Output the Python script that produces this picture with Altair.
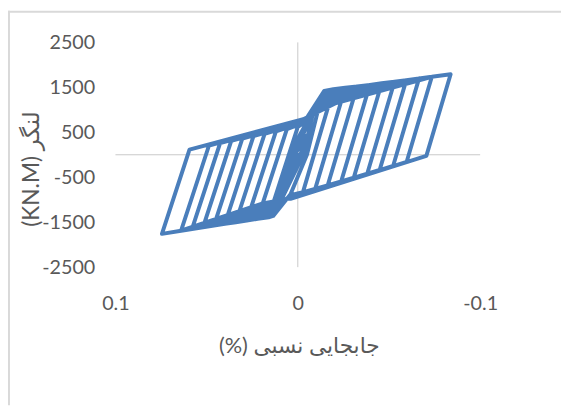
import altair as alt
import pandas as pd

# ---------------- data ----------------
# small initial (elastic) cycles: drift (%) and moment (kN.m)
elastic_x = [0.0, 0.004, 0.0015, -0.004, -0.0015, 0.008, 0.003, -0.008, -0.003, 0.012, 0.005, -0.013, -0.005]
elastic_y = [0, -450, 0, 430, 0, -880, 0, 860, 0, -1250, 0, 1300, 0]

# main cycles – positive drift (drawn on the left, axis reversed)
push_peak_x = [0.016, 0.022, 0.028, 0.034, 0.040, 0.046, 0.052, 0.058, 0.064, 0.0745]
push_peak_y = [-1390, -1425, -1465, -1500, -1535, -1575, -1615, -1650, -1690, -1760]
push_unload_x = [0.0, 0.006, 0.012, 0.0182, 0.0243, 0.0304, 0.0365, 0.0426, 0.0487, 0.0594]
push_unload_y = [620, 569, 518, 466, 414, 362, 310, 258, 206, 115]

# main cycles – negative drift (drawn on the right)
pull_peak_x = [-0.0195, -0.026, -0.0325, -0.0395, -0.046, -0.053, -0.0595, -0.0665, -0.0735, -0.0838]
pull_peak_y = [1460, 1490, 1520, 1555, 1590, 1625, 1660, 1700, 1735, 1790]
pull_unload_x = [-0.0027, -0.0095, -0.0164, -0.0238, -0.0307, -0.0381, -0.0449, -0.0523, -0.0597, -0.0705]
pull_unload_y = [-847, -764, -680, -591, -508, -418, -335, -245, -156, -24]

# pinching region points of each cycle
pinch_top_x = -0.003
pinch_top_y = [700, 710, 720, 730, 740, 750, 760, 770, 780, 790]
knee_top_x = [-0.0145, -0.0152, -0.0159, -0.0166, -0.0173, -0.018, -0.0187, -0.0194, -0.0201, -0.021]
knee_top_y = [1420, 1390, 1360, 1330, 1300, 1270, 1240, 1210, 1180, 1150]
pinch_bot_x = 0.004
pinch_bot_y = [-880, -890, -900, -910, -920, -930, -940, -950, -960, -970]
knee_bot_x = [0.0135, 0.0142, 0.0149, 0.0156, 0.0163, 0.017, 0.0177, 0.0184, 0.0191, 0.02]
knee_bot_y = [-1360, -1330, -1300, -1270, -1240, -1210, -1180, -1150, -1120, -1090]
end_x = [0.004]
end_y = [-980]

x_ticks = [-0.1, 0, 0.1]
y_ticks = [-2500, -1500, -500, 500, 1500, 2500]

x_title = "(%) جابجایی نسبی"
y_title = "(KN.M) لنگر"

# ---------------- build the ordered path ----------------
xs, ys = list(elastic_x), list(elastic_y)
for k in range(len(push_peak_x)):
    xs += [pinch_bot_x, knee_bot_x[k]]
    ys += [pinch_bot_y[k], knee_bot_y[k]]
    if k > 0:
        xs.append(push_peak_x[k - 1]); ys.append(push_peak_y[k - 1])
    xs += [push_peak_x[k], push_unload_x[k], pinch_top_x, knee_top_x[k]]
    ys += [push_peak_y[k], push_unload_y[k], pinch_top_y[k], knee_top_y[k]]
    if k > 0:
        xs.append(pull_peak_x[k - 1]); ys.append(pull_peak_y[k - 1])
    xs += [pull_peak_x[k], pull_unload_x[k]]
    ys += [pull_peak_y[k], pull_unload_y[k]]
xs += end_x
ys += end_y

loop = pd.DataFrame({"drift": xs, "moment": ys, "i": range(len(xs))})

FONT = "Lato, DejaVu Sans"
GREY = "#595959"
BLUE = "#4a7ebb"

xscale = alt.Scale(domain=[-0.1, 0.1], reverse=True, nice=False, zero=False)
yscale = alt.Scale(domain=[-2500, 2500], nice=False, zero=False)

xaxis = alt.Axis(
    values=x_ticks, domain=False, ticks=False, grid=False, labelFlush=False,
    labelExpr="datum.value < 0 ? '-' + format(-datum.value, '.1~f') : format(datum.value, '.1~f')",
    labelFont=FONT, labelFontSize=20, labelColor=GREY, labelPadding=27,
    title=x_title, titleFont=FONT, titleFontSize=22, titleFontWeight="normal",
    titleColor=GREY, titleX=186, titleY=80, titleAlign="center", titleBaseline="middle",
)
yaxis = alt.Axis(
    values=y_ticks, domain=False, ticks=False, grid=False, labelFlush=False,
    labelExpr="datum.value < 0 ? '-' + format(-datum.value, 'd') : format(datum.value, 'd')",
    labelFont=FONT, labelFontSize=20, labelColor=GREY, labelPadding=21,
    title=y_title, titleFont=FONT, titleFontSize=23, titleFontWeight="normal",
    titleColor=GREY, titleX=-85, titleY=128, titleAngle=270,
    titleAlign="center", titleBaseline="middle",
)

base_x = alt.X("drift:Q", scale=xscale, axis=xaxis)
base_y = alt.Y("moment:Q", scale=yscale, axis=yaxis)

line = alt.Chart(loop).mark_line(
    color=BLUE, strokeWidth=4, strokeJoin="round", strokeCap="round"
).encode(x=base_x, y=base_y, order="i:Q")

zero_h = alt.Chart(pd.DataFrame({"y": [0], "x": [-0.1], "x2": [0.1]})).mark_rule(
    color="#c8c8c8", strokeWidth=1
).encode(x=alt.X("x:Q", scale=xscale), x2="x2:Q", y=alt.Y("y:Q", scale=yscale))

zero_v = alt.Chart(pd.DataFrame({"x": [0], "y": [-2500], "y2": [2500]})).mark_rule(
    color="#c8c8c8", strokeWidth=1
).encode(x=alt.X("x:Q", scale=xscale), y=alt.Y("y:Q", scale=yscale), y2="y2:Q")

one = pd.DataFrame({"a": [0]})
border_top = alt.Chart(one).mark_rule(color="#d9d9d9", strokeWidth=2).encode(
    x=alt.value(-109), x2=alt.value(452), y=alt.value(-31)
)
border_left = alt.Chart(one).mark_rule(color="#d9d9d9", strokeWidth=2).encode(
    x=alt.value(-108), y=alt.value(-32), y2=alt.value(368)
)

chart = alt.layer(border_top, border_left, zero_h, zero_v, line).properties(
    width=370, height=228,
    autosize=alt.AutoSizeParams(type="none"),
    padding={"left": 109, "top": 32, "right": 82, "bottom": 140},
    background="white",
).configure_view(strokeWidth=0)

chart.save("out.html", embed_options={"renderer": "svg", "actions": False})
